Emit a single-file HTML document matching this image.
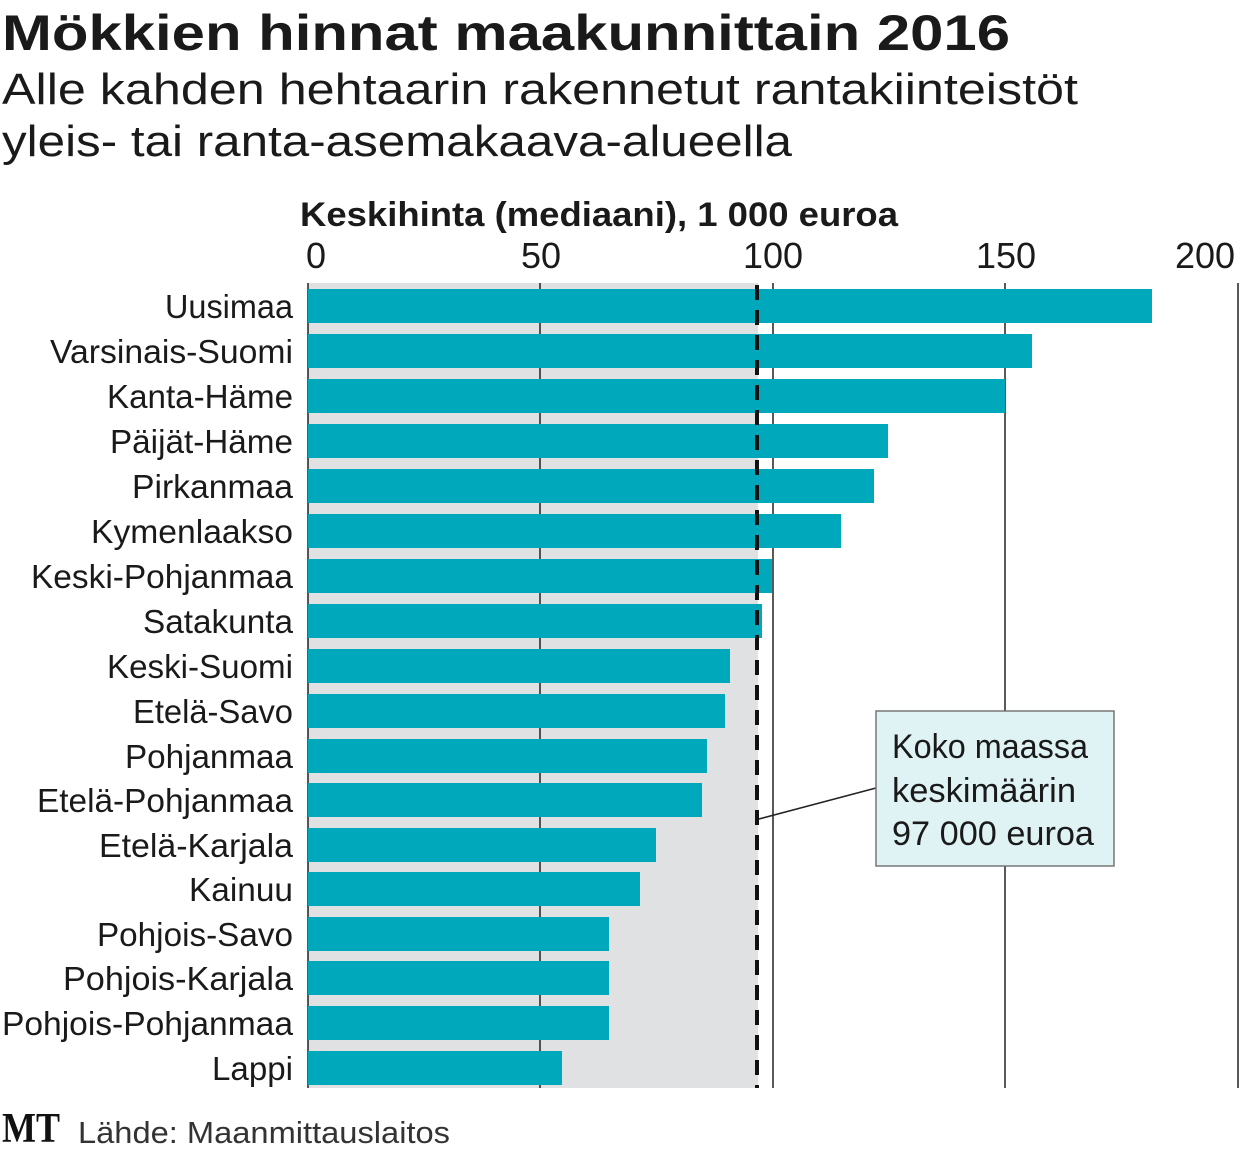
<!DOCTYPE html>
<html><head><meta charset="utf-8"><style>
html,body{margin:0;padding:0;background:#fff;}
svg{display:block;font-family:"Liberation Sans",sans-serif;}
</style></head><body>
<svg width="1240" height="1152" viewBox="0 0 1240 1152" xmlns="http://www.w3.org/2000/svg">
<text x="2" y="50" font-size="50" font-weight="bold" fill="#1a1a1a" textLength="1008" lengthAdjust="spacingAndGlyphs">Mökkien hinnat maakunnittain 2016</text>
<text x="2" y="104" font-size="44" fill="#1a1a1a" textLength="1076" lengthAdjust="spacingAndGlyphs">Alle kahden hehtaarin rakennetut rantakiinteistöt</text>
<text x="2" y="156" font-size="44" fill="#1a1a1a" textLength="790" lengthAdjust="spacingAndGlyphs">yleis- tai ranta-asemakaava-alueella</text>
<text x="300" y="226" font-size="34" font-weight="bold" fill="#1a1a1a" textLength="598" lengthAdjust="spacingAndGlyphs">Keskihinta (mediaani), 1 000 euroa</text>
<g font-size="36" fill="#1a1a1a" text-anchor="middle">
<text x="316" y="268">0</text><text x="541" y="268">50</text><text x="773" y="268">100</text><text x="1006" y="268">150</text><text x="1205" y="268">200</text>
</g>
<rect x="308" y="283" width="450" height="805" fill="#dfe1e2"/>
<g stroke="#222" stroke-width="1.5">
<line x1="308" y1="283" x2="308" y2="1088"/><line x1="540" y1="283" x2="540" y2="1088"/><line x1="773" y1="283" x2="773" y2="1088"/><line x1="1005" y1="283" x2="1005" y2="1088"/><line x1="1238" y1="283" x2="1238" y2="1088"/>
</g>
<g fill="#00a8bc">
<rect x="308" y="289" width="844" height="34"/>
<rect x="308" y="334" width="724" height="34"/>
<rect x="308" y="379" width="697" height="34"/>
<rect x="308" y="424" width="580" height="34"/>
<rect x="308" y="469" width="566" height="34"/>
<rect x="308" y="514" width="533" height="34"/>
<rect x="308" y="559" width="464" height="34"/>
<rect x="308" y="604" width="454" height="34"/>
<rect x="308" y="649" width="422" height="34"/>
<rect x="308" y="694" width="417" height="34"/>
<rect x="308" y="739" width="399" height="34"/>
<rect x="308" y="783" width="394" height="34"/>
<rect x="308" y="828" width="348" height="34"/>
<rect x="308" y="872" width="332" height="34"/>
<rect x="308" y="917" width="301" height="34"/>
<rect x="308" y="961" width="301" height="34"/>
<rect x="308" y="1006" width="301" height="34"/>
<rect x="308" y="1051" width="254" height="34"/>
</g>
<line x1="757" y1="285" x2="757" y2="1088" stroke="#111" stroke-width="4" stroke-dasharray="15,10"/>
<g font-size="33" fill="#1a1a1a" text-anchor="end" lengthAdjust="spacingAndGlyphs">
<text x="293" y="318" textLength="128" lengthAdjust="spacingAndGlyphs">Uusimaa</text>
<text x="293" y="363" textLength="243" lengthAdjust="spacingAndGlyphs">Varsinais-Suomi</text>
<text x="293" y="408" textLength="186" lengthAdjust="spacingAndGlyphs">Kanta-Häme</text>
<text x="293" y="453" textLength="183" lengthAdjust="spacingAndGlyphs">Päijät-Häme</text>
<text x="293" y="498" textLength="161" lengthAdjust="spacingAndGlyphs">Pirkanmaa</text>
<text x="293" y="543" textLength="202" lengthAdjust="spacingAndGlyphs">Kymenlaakso</text>
<text x="293" y="588" textLength="262" lengthAdjust="spacingAndGlyphs">Keski-Pohjanmaa</text>
<text x="293" y="633" textLength="150" lengthAdjust="spacingAndGlyphs">Satakunta</text>
<text x="293" y="678" textLength="186" lengthAdjust="spacingAndGlyphs">Keski-Suomi</text>
<text x="293" y="723" textLength="160" lengthAdjust="spacingAndGlyphs">Etelä-Savo</text>
<text x="293" y="768" textLength="168" lengthAdjust="spacingAndGlyphs">Pohjanmaa</text>
<text x="293" y="812" textLength="256" lengthAdjust="spacingAndGlyphs">Etelä-Pohjanmaa</text>
<text x="293" y="857" textLength="194" lengthAdjust="spacingAndGlyphs">Etelä-Karjala</text>
<text x="293" y="901" textLength="104" lengthAdjust="spacingAndGlyphs">Kainuu</text>
<text x="293" y="946" textLength="196" lengthAdjust="spacingAndGlyphs">Pohjois-Savo</text>
<text x="293" y="990" textLength="230" lengthAdjust="spacingAndGlyphs">Pohjois-Karjala</text>
<text x="293" y="1035" textLength="291" lengthAdjust="spacingAndGlyphs">Pohjois-Pohjanmaa</text>
<text x="293" y="1080" textLength="81" lengthAdjust="spacingAndGlyphs">Lappi</text>
</g>
<line x1="759" y1="819" x2="876" y2="788" stroke="#222" stroke-width="1.5"/>
<rect x="876" y="711" width="238" height="155" fill="#dff3f5" stroke="#777" stroke-width="1.5"/>
<g font-size="34" fill="#1a1a1a">
<text x="892" y="758" textLength="196" lengthAdjust="spacingAndGlyphs">Koko maassa</text>
<text x="892" y="802" textLength="184" lengthAdjust="spacingAndGlyphs">keskimäärin</text>
<text x="892" y="845" textLength="202" lengthAdjust="spacingAndGlyphs">97 000 euroa</text>
</g>
<text x="2" y="1142" font-family="'Liberation Serif',serif" font-size="42" font-weight="bold" fill="#111" textLength="58" lengthAdjust="spacingAndGlyphs">MT</text>
<text x="78" y="1143" font-size="31" fill="#333" textLength="372" lengthAdjust="spacingAndGlyphs">Lähde: Maanmittauslaitos</text>
</svg>
</body></html>
